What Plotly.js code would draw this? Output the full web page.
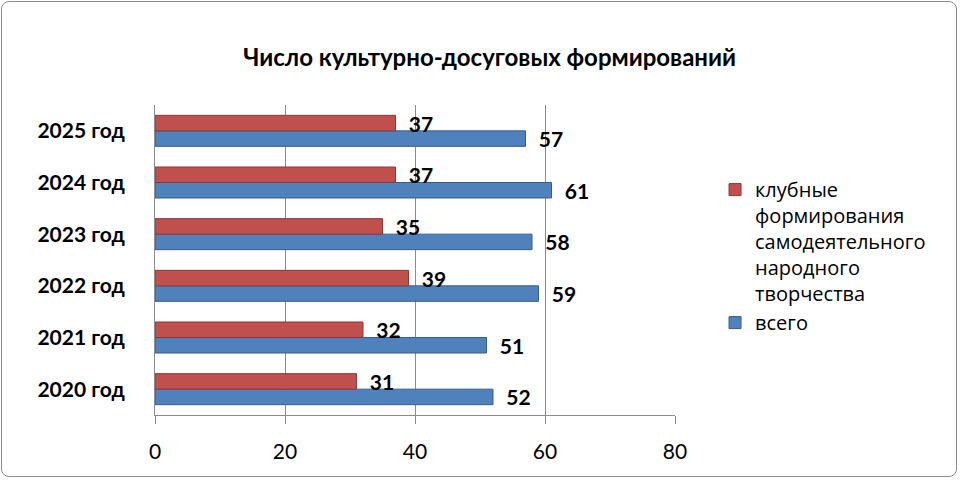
<!DOCTYPE html>
<html>
<head>
<meta charset="utf-8">
<script src="https://cdn.plot.ly/plotly-3.0.1.min.js"></script>
<style>
  html, body { margin: 0; padding: 0; background: #fff; }
  #frame { position: absolute; left: 1px; top: 1px; width: 954px; height: 474px;
           border: 1px solid #8c8c8c; border-radius: 8px; overflow: hidden; }
  #chart { position: absolute; left: -2px; top: -2px; width: 960px; height: 480px; }
</style>
</head>
<body>
<div id="frame"><div id="chart"></div></div>
<script>
const categories = ["2020 год", "2021 год", "2022 год", "2023 год", "2024 год", "2025 год"];
const clubValues = [31, 32, 39, 35, 37, 37];
const totalValues = [52, 51, 59, 58, 61, 57];
const clubName = "клубные<br>формирования<br>самодеятельного<br>народного<br>творчества";
const totalName = "всего";
const xTicks = [0, 20, 40, 60, 80];
const chartTitle = "Число культурно-досуговых формирований";

const fam = "Lato, 'Open Sans', sans-serif";
const labelFont = {family: fam, size: 21, color: "#000", weight: "bold"};

const traces = [
  {
    type: "bar", orientation: "h", name: totalName,
    y: categories, x: totalValues,
    marker: {color: "#4F81BD", line: {color: "#385D8A", width: 1}},
    text: totalValues.map(String), texttemplate: "  %{text}",
    textposition: "outside", constraintext: "none", textfont: labelFont, cliponaxis: false,
    hoverinfo: "x+y"
  },
  {
    type: "bar", orientation: "h", name: clubName,
    y: categories, x: clubValues,
    marker: {color: "#C0504D", line: {color: "#8C3836", width: 1}},
    text: clubValues.map(String), texttemplate: "  %{text}",
    textposition: "outside", constraintext: "none", textfont: labelFont, cliponaxis: false,
    hoverinfo: "x+y"
  }
];

const layout = {
  width: 960, height: 480,
  paper_bgcolor: "rgba(0,0,0,0)", plot_bgcolor: "rgba(0,0,0,0)",
  margin: {l: 155, r: 285, t: 105, b: 65},
  barmode: "group", bargap: 0.4, bargroupgap: 0,
  title: {
    text: "<b>" + chartTitle + "</b>",
    font: {family: fam, size: 24, color: "#000"},
    x: 0.51, xanchor: "center", y: 0.88, yanchor: "middle", xref: "container", yref: "container"
  },
  xaxis: {
    range: [0, 80], tickvals: xTicks, ticktext: xTicks.map(String),
    showgrid: true, gridcolor: "#8c8c8c", gridwidth: 1,
    showline: true, linecolor: "#8c8c8c", zeroline: false,
    ticks: "outside", ticklen: 8, tickcolor: "#8c8c8c",
    ticklabelstandoff: 10,
    tickfont: {family: fam, size: 21, color: "#000"},
    fixedrange: true
  },
  yaxis: {
    type: "category", categoryorder: "array", categoryarray: categories,
    showgrid: false, showline: true, linecolor: "#8c8c8c", zeroline: false,
    ticks: "", ticklabelstandoff: 25,
    tickfont: {family: fam, size: 21, color: "#000", weight: "bold"},
    fixedrange: true
  },
  legend: {
    x: 1.077, xanchor: "left", y: 0.79, yanchor: "top",
    traceorder: "reversed", valign: "top",
    font: {family: "'Open Sans', sans-serif", size: 20, color: "#000"},
    itemwidth: 30, tracegroupgap: 0, bgcolor: "rgba(0,0,0,0)"
  },
  showlegend: true
};

Plotly.newPlot("chart", traces, layout, {displayModeBar: false, staticPlot: true});
</script>
</body>
</html>
